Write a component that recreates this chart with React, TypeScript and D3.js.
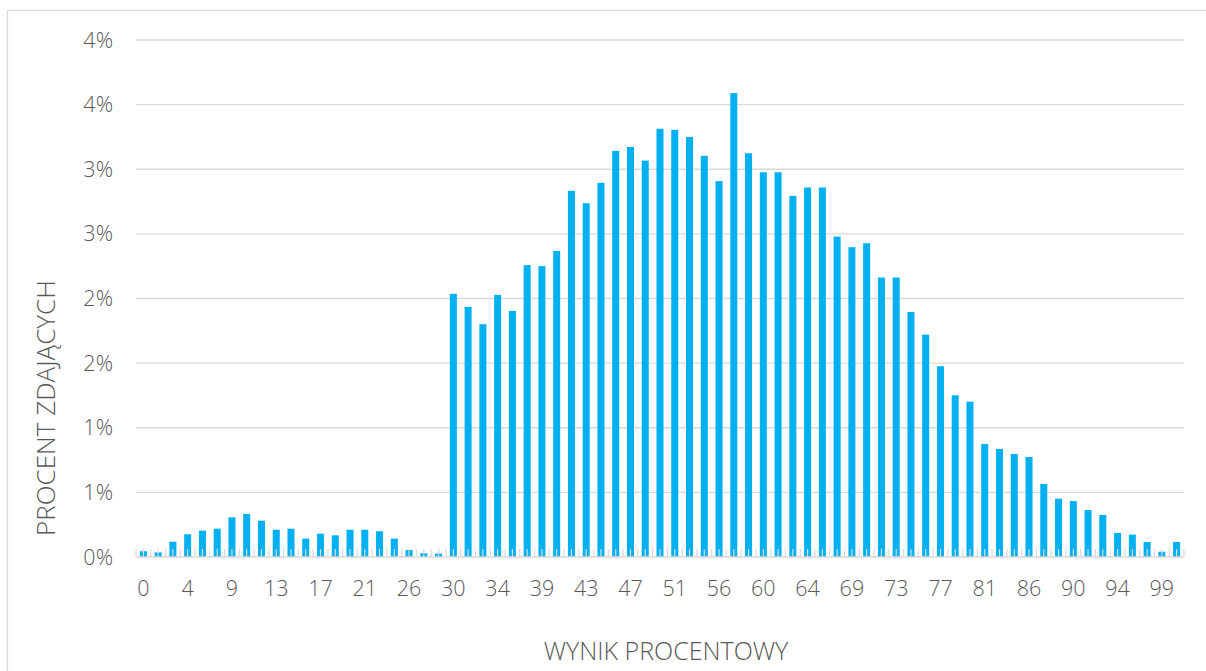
import * as d3 from "d3";
import { useEffect, useRef } from "react";

// percent score categories (0..70 points → %)
const categories: string[] = [
  "0", "1", "3", "4", "6", "7", "9", "10", "11", "13", "14", "16", "17", "19", "20", "21",
  "23", "24", "26", "27", "29", "30", "31", "33", "34", "36", "37", "39", "40", "41", "43",
  "44", "46", "47", "49", "50", "51", "53", "54", "56", "57", "59", "60", "61", "63", "64",
  "66", "67", "69", "70", "71", "73", "74", "76", "77", "79", "80", "81", "83", "84", "86",
  "87", "89", "90", "91", "93", "94", "96", "97", "99", "100",
];

// share of students (%) per category
const shares: number[] = [
  0.045, 0.035, 0.118, 0.176, 0.204, 0.219, 0.307, 0.333, 0.281, 0.211, 0.219, 0.142,
  0.18, 0.168, 0.211, 0.211, 0.199, 0.142, 0.054, 0.029, 0.026, 2.036, 1.935, 1.801,
  2.028, 1.904, 2.258, 2.25, 2.368, 2.833, 2.737, 2.895, 3.142, 3.173, 3.067, 3.313,
  3.305, 3.25, 3.104, 2.908, 3.589, 3.124, 2.977, 2.977, 2.794, 2.859, 2.859, 2.479,
  2.397, 2.428, 2.162, 2.162, 1.896, 1.72, 1.476, 1.251, 1.202, 0.875, 0.836, 0.797,
  0.774, 0.565, 0.451, 0.433, 0.364, 0.325, 0.186, 0.173, 0.116, 0.041, 0.116,
];

const yTicks: number[] = [0, 0.5, 1, 1.5, 2, 2.5, 3, 3.5, 4];
const yTickLabels: string[] = ["0%", "1%", "1%", "2%", "2%", "3%", "3%", "4%", "4%"];

const xTitle = "WYNIK PROCENTOWY";
const yTitle = "PROCENT ZDAJĄCYCH";

export default function App() {
  const ref = useRef<SVGSVGElement | null>(null);

  useEffect(() => {
    if (!ref.current) return;
    const width = 1206;
    const height = 671;
    const plot = { left: 136, right: 1184, top: 40, bottom: 557 };
    const font = "'Open Sans', 'DejaVu Sans', sans-serif";
    const textColor = "#595959";
    const gridColor = "#d9d9d9";

    const svg = d3.select(ref.current);
    svg.selectAll("*").remove();

    svg.append("rect").attr("width", width).attr("height", height).attr("fill", "#fff");

    // chart frame
    svg
      .append("rect")
      .attr("x", 7.5)
      .attr("y", 10.5)
      .attr("width", width + 20)
      .attr("height", height + 20)
      .attr("fill", "none")
      .attr("stroke", gridColor)
      .attr("stroke-width", 1.3);

    const x = d3
      .scaleBand<number>()
      .domain(d3.range(categories.length))
      .range([plot.left, plot.right])
      .padding(0);

    const y = d3.scaleLinear().domain([0, 4]).range([plot.bottom, plot.top]);

    // gridlines
    svg
      .append("g")
      .selectAll("line")
      .data(yTicks.slice(1))
      .join("line")
      .attr("x1", plot.left)
      .attr("x2", plot.right)
      .attr("y1", (d) => y(d))
      .attr("y2", (d) => y(d))
      .attr("stroke", gridColor)
      .attr("stroke-width", 1.3);

    // bars
    const bw = x.bandwidth() * 0.476;
    svg
      .append("g")
      .selectAll("rect")
      .data(shares)
      .join("rect")
      .attr("x", (_, i) => x(i)! + (x.bandwidth() - bw) / 2)
      .attr("y", (d) => y(d))
      .attr("width", bw)
      .attr("height", (d) => y(0) - y(d))
      .attr("fill", "#00b0f0");

    // axis line + tick marks (category boundaries and centres)
    const tickPos: number[] = [];
    categories.forEach((_, i) => {
      tickPos.push(x(i)!);
      tickPos.push(x(i)! + x.bandwidth() / 2);
    });
    tickPos.push(plot.right);
    svg
      .append("g")
      .selectAll("line")
      .data(tickPos)
      .join("line")
      .attr("x1", (d) => d)
      .attr("x2", (d) => d)
      .attr("y1", plot.bottom - 8)
      .attr("y2", plot.bottom)
      .attr("stroke", gridColor)
      .attr("stroke-width", 1.2);
    svg
      .append("line")
      .attr("x1", plot.left)
      .attr("x2", plot.right)
      .attr("y1", plot.bottom)
      .attr("y2", plot.bottom)
      .attr("stroke", gridColor)
      .attr("stroke-width", 1.5);

    // y labels
    svg
      .append("g")
      .selectAll("text")
      .data(yTicks)
      .join("text")
      .attr("x", 113)
      .attr("y", (d) => y(d))
      .attr("dy", "0.35em")
      .attr("text-anchor", "end")
      .attr("font-family", font)
      .attr("font-weight", 300)
      .attr("font-size", 21.5)
      .attr("fill", textColor)
      .text((_, i) => yTickLabels[i]);

    // x labels, every third category
    svg
      .append("g")
      .selectAll("text")
      .data(categories.map((c, i) => ({ c, i })).filter((d) => d.i % 3 === 0))
      .join("text")
      .attr("x", (d) => x(d.i)! + x.bandwidth() / 2)
      .attr("y", 588)
      .attr("dy", "0.35em")
      .attr("text-anchor", "middle")
      .attr("font-family", font)
      .attr("font-weight", 300)
      .attr("font-size", 21.5)
      .attr("fill", textColor)
      .text((d) => d.c);

    // axis titles
    svg
      .append("text")
      .attr("x", 666)
      .attr("y", 651)
      .attr("dy", "0.35em")
      .attr("text-anchor", "middle")
      .attr("font-family", font)
      .attr("font-weight", 300)
      .attr("font-size", 25)
      .attr("fill", textColor)
      .text(xTitle);

    svg
      .append("text")
      .attr("transform", "translate(46,408) rotate(-90)")
      .attr("dy", "0.35em")
      .attr("text-anchor", "middle")
      .attr("font-family", font)
      .attr("font-weight", 300)
      .attr("font-size", 26)
      .attr("fill", textColor)
      .text(yTitle);
  }, []);

  return (
    <svg
      ref={ref}
      width={1206}
      height={671}
      style={{ position: "absolute", left: 0, top: 0, display: "block" }}
    ></svg>
  );
}
